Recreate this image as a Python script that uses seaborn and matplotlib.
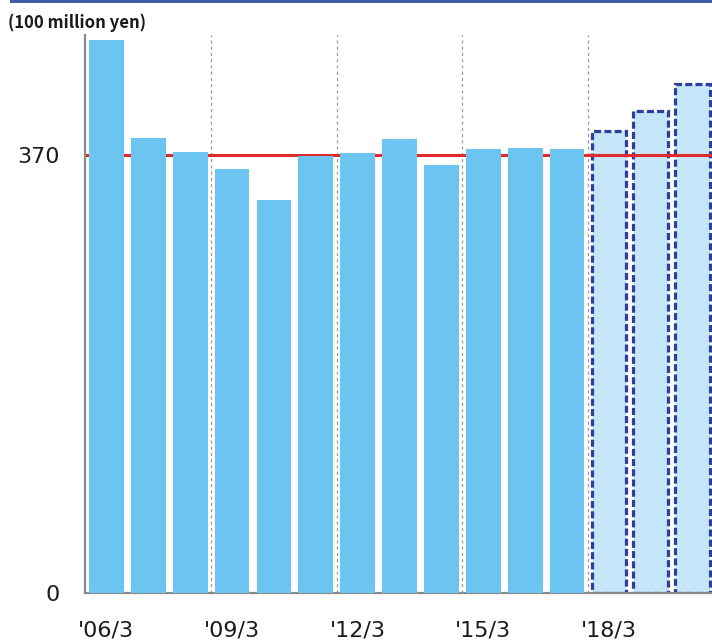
import numpy as np
import pandas as pd
import seaborn as sns
import matplotlib.pyplot as plt
from matplotlib.patches import Rectangle

# Fiscal periods (year ending March), values in 100 million yen
periods = ["'06/3", "'07/3", "'08/3", "'09/3", "'10/3", "'11/3", "'12/3", "'13/3",
           "'14/3", "'15/3", "'16/3", "'17/3", "'18/3", "'19/3", "'20/3"]
values = [467, 384, 372, 358, 332, 369, 371, 383.5, 361.5, 374.5, 375.5, 374.5, 390, 407, 430]
kinds = ["actual"] * 12 + ["plan"] * 3
target = 370
ytick_values = [0, 370]
xtick_labels = ["'06/3", "'09/3", "'12/3", "'15/3", "'18/3"]

df = pd.DataFrame({"period": periods, "value": values, "kind": kinds})

sns.set_theme(style="white")
plt.rcParams["font.family"] = ["DejaVu Sans"]

fig = plt.figure(figsize=(7.12, 6.4), dpi=100)
ax = fig.add_axes([85 / 712, 47 / 640, 1 - 85 / 712, (593 - 35) / 640])

sns.barplot(data=df, x="period", y="value", hue="kind", dodge=False,
            palette={"actual": "#6cc5f0", "plan": "#c4e6f8"}, saturation=1,
            width=0.83, legend=False, ax=ax)

# solid bars above the target line, plan bars below it with dashed outline
for patch in ax.containers[0]:
    patch.set_zorder(3)
    patch.set_linewidth(0)
for patch in ax.containers[1]:
    patch.set_zorder(1.5)
    patch.set_edgecolor("#2f3d9c")
    patch.set_linewidth(2.3)
    patch.set_linestyle((0, (2.2, 1.0)))

ax.axhline(target, color="#e02a2e", lw=2.2, zorder=2)

# dotted separators every three periods
for xpos in [2.5, 5.5, 8.5, 11.5]:
    ax.axvline(xpos, color="#9a9a9a", lw=0.9, ls=(0, (2.5, 2.5)), zorder=1)

ax.set_xlim(-0.51, 14.46)
ax.set_ylim(0, 471)
ax.set_yticks(ytick_values)
ax.set_yticklabels([str(v) for v in ytick_values])
ax.set_xticks([periods.index(l) for l in xtick_labels])
ax.set_xticklabels(xtick_labels)
ax.tick_params(axis="both", length=0, labelsize=16, colors="#1a1a1a")
ax.tick_params(axis="y", pad=18)
ax.tick_params(axis="x", pad=19.5)
ax.set_xlabel("")
ax.set_ylabel("")

for side in ["top", "right"]:
    ax.spines[side].set_visible(False)
for side in ["left", "bottom"]:
    ax.spines[side].set_color("#8a8a8a")
    ax.spines[side].set_linewidth(1.6)

# header rule and unit label
fig.add_artist(Rectangle((10 / 712, 1 - 3 / 640), 1, 3 / 640, transform=fig.transFigure,
                         color="#3b5ca8", lw=0))
fig.text(8 / 712, 1 - 23 / 640, "(100 million yen)", fontsize=12, fontweight="bold",
         family=["Noto Sans CJK JP", "DejaVu Sans"], va="center", ha="left", color="#1a1a1a")

fig.savefig("out.png", dpi=100)
